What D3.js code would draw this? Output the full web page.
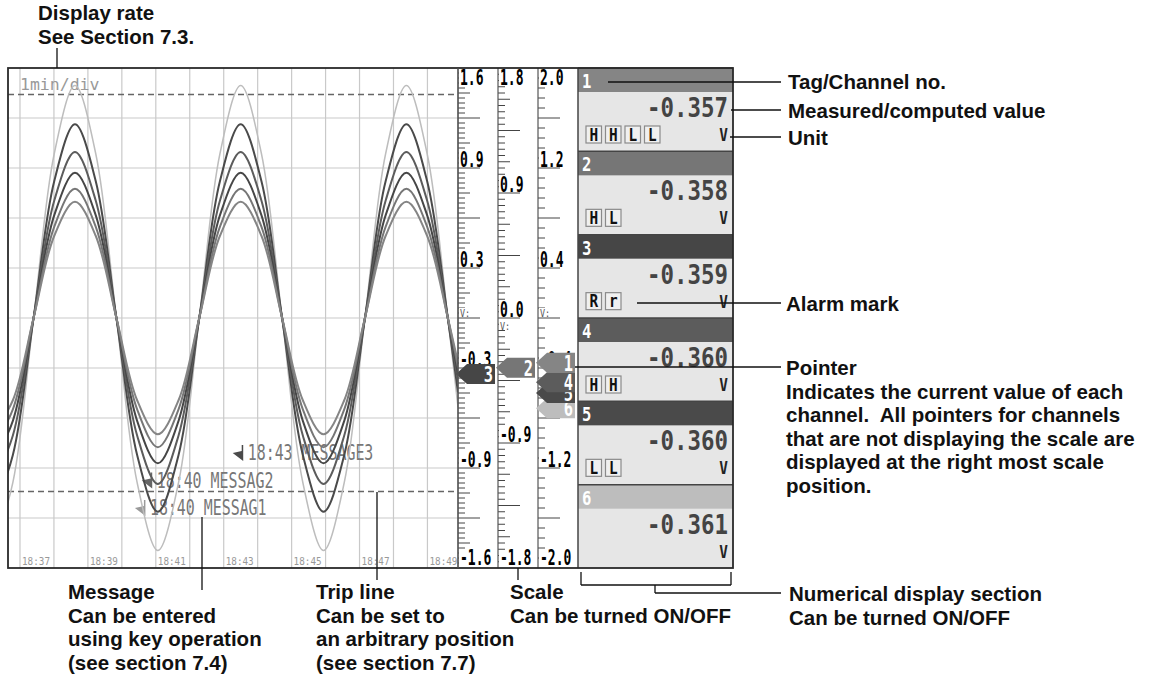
<!DOCTYPE html>
<html><head><meta charset="utf-8">
<script src="https://cdn.jsdelivr.net/npm/d3@7"></script>
<style>body{margin:0;background:#fff;} svg{display:block;} .ann{white-space:pre;}</style>
</head><body><svg id="c" width="1158" height="682"></svg>
<script>
// ---------------- data ----------------
const channelIds = ["1","2","3","4","5","6"];
const scaleLow  = [-2.0,-1.8,-1.6,-1.4,-1.2,-1.0];
const scaleHigh = [ 2.0, 1.8, 1.6, 1.4, 1.2, 1.0];
const measuredValues = [-0.357,-0.358,-0.359,-0.360,-0.360,-0.361];
const unitLabels = ["V","V","V","V","V","V"];
const alarmMarks = [["H","H","L","L"],["H","L"],["R","r"],["H","H"],["L","L"],[]];
const channelShades = ["#858585","#767676","#464646","#5c5c5c","#4a4a4a","#bdbdbd"];
// minutes after 18:37 and the common input signal (V)
const sampleMinutes = [-0.82,-0.21,0.40,1.01,1.62,2.23,2.84,3.45,4.06,4.67,5.28,5.89,6.50,7.11,7.72,8.33,8.94,9.55,10.16,10.77,11.38,11.99,12.60,12.90];
const signalVolts   = [-0.93,-0.658,0,0.658,0.93,0.658,0,-0.658,-0.93,-0.658,0,0.658,0.93,0.658,0,-0.658,-0.93,-0.658,0,0.658,0.93,0.658,0,-0.357];
const timeGridMinutes = [0,1,2,3,4,5,6,7,8,9,10,11,12];
const timeTickMinutes = [0,2,4,6,8,10,12];
const timeTickLabels = ["18:37","18:39","18:41","18:43","18:45","18:47","18:49"];
const timeWindow = [-0.353,12.9];
const displayRate = "1min/div";
const shownScales = [2,1,0];           // scale columns show ch3, ch2, ch1
const scaleLabelValues = [[1.6,0.96,0.32,-0.32,-0.96,-1.6],[1.8,0.9,0.0,-0.9,-1.8],[2.0,1.2,0.4,-0.4,-1.2,-2.0]];
const scaleLabelTexts  = [["1.6","0.9","0.3","-0.3","-0.9","-1.6"],["1.8","0.9","0.0","-0.9","-1.8"],["2.0","1.2","0.4","-0.4","-1.2","-2.0"]];
const scaleUnitMarks = ["V:","V:","V:"];
const scaleDivisions = [100,80,50];
const scaleLongEvery = [10,10,5];
const scaleMidEvery  = [5,5,0];
const tripLevels = [1.43,-1.11];        // volts on the ch3 scale
const messageMinutes = [6.53,3.85,3.65];
const messageTexts = ["18:43 MESSAGE3","18:40 MESSAG2","18:40 MESSAG1"];
const messageShades = ["#4a4a4a","#666","#9a9a9a"];
const annotations = [
  {lines:["Display rate","See Section 7.3."], x:38, y:20},
  {lines:["Tag/Channel no."], x:788, y:89},
  {lines:["Measured/computed value"], x:788, y:118},
  {lines:["Unit"], x:788, y:145},
  {lines:["Alarm mark"], x:786, y:311},
  {lines:["Pointer","Indicates the current value of each","channel.  All pointers for channels","that are not displaying the scale are","displayed at the right most scale","position."], x:786, y:375},
  {lines:["Numerical display section","Can be turned ON/OFF"], x:789, y:601},
  {lines:["Message","Can be entered","using key operation","(see section 7.4)"], x:68, y:599},
  {lines:["Trip line","Can be set to","an arbitrary position","(see section 7.7)"], x:316, y:599},
  {lines:["Scale","Can be turned ON/OFF"], x:510, y:599}
];

// ---------------- layout ----------------
const svg = d3.select("#c");
const T = 68, B = 568, L = 8, TR = 458, colW = 40, ND0 = 578, ND1 = 733;
const MONO = "DejaVu Sans Mono";
svg.append("rect").attr("width",1158).attr("height",682).attr("fill","#fff");

const x = d3.scaleLinear().domain(timeWindow).range([L, TR]);
const yCh = channelIds.map((_,i)=>d3.scaleLinear().domain([scaleLow[i],scaleHigh[i]]).range([B,T]));

function lcd(g, str, px, py, size, sx, o={}) {
  return g.append("text").attr("transform",`translate(${px},${py}) scale(${sx},1)`)
    .attr("font-family",MONO).attr("font-size",size).attr("font-weight",o.weight||"normal")
    .attr("fill",o.fill||"#000").attr("text-anchor",o.anchor||"start").text(str);
}

// trend area
const trend = svg.append("g");
trend.append("rect").attr("x",L).attr("y",T).attr("width",TR-L).attr("height",B-T).attr("fill","#fff");
trend.selectAll("line.vg").data(timeGridMinutes).join("line")
  .attr("x1",d=>x(d)).attr("x2",d=>x(d)).attr("y1",T).attr("y2",B)
  .attr("stroke","#c9c9c9").attr("stroke-width",1.2);
const yGrid = d3.scaleLinear().domain([0,10]).range([T,B]);
trend.selectAll("line.hg").data(d3.range(1,10)).join("line")
  .attr("x1",L).attr("x2",TR).attr("y1",d=>yGrid(d)).attr("y2",d=>yGrid(d))
  .attr("stroke","#c9c9c9").attr("stroke-width",1.2);

timeTickMinutes.forEach((m,i)=>lcd(trend,timeTickLabels[i],x(m)+2,565,9.8,0.95,{fill:"#999"}));
lcd(trend,displayRate,20,90,16.5,1,{fill:"#999"});

// trip lines
tripLevels.forEach(v=>{
  trend.append("line").attr("x1",L).attr("x2",TR).attr("y1",yCh[2](v)).attr("y2",yCh[2](v))
    .attr("stroke","#666").attr("stroke-width",1.6).attr("stroke-dasharray","6,4");
});

// messages (under the traces)
const msgRowY = d3.scaleLinear().domain([0,1]).range([460,487.5]);
messageTexts.forEach((t,i)=>{
  const mx = x(messageMinutes[i]), my = msgRowY(i);
  trend.append("path").attr("d",`M${mx},${my-15}L${mx+1.5},${my-15}L${mx+1.5},${my+1}L${mx-9},${my-7}L${mx},${my-9}Z`)
    .attr("fill",messageShades[i]);
  lcd(trend,t,mx+6,my,21,0.71,{fill:"#777"});
});

// traces
svg.append("clipPath").attr("id","tc").append("rect").attr("x",L).attr("y",T).attr("width",TR-L).attr("height",B-T);
const traceG = svg.append("g").attr("clip-path","url(#tc)");
const pts = sampleMinutes.map((m,i)=>[m,signalVolts[i]]);
[5,4,3,2,1,0].forEach(ci=>{
  const line = d3.line().x(d=>x(d[0])).y(d=>yCh[ci](d[1])).curve(d3.curveCatmullRom.alpha(0.5));
  traceG.append("path").attr("d",line(pts)).attr("fill","none")
    .attr("stroke",channelShades[ci]).attr("stroke-width",ci===5?1.5:2);
});

// scale columns
shownScales.forEach((ci,c)=>{
  const cx = TR + c*colW;
  const g = svg.append("g");
  g.append("rect").attr("x",cx).attr("y",T).attr("width",colW).attr("height",B-T).attr("fill","#fff");
  const n = scaleDivisions[c];
  d3.range(1,n).forEach(k=>{
    const v = scaleLow[ci] + (scaleHigh[ci]-scaleLow[ci])*k/n;
    let len = 7;
    if (k % scaleLongEvery[c] === 0) len = 22; else if (scaleMidEvery[c] && k % scaleMidEvery[c] === 0) len = 12;
    g.append("line").attr("x1",cx).attr("x2",cx+len).attr("y1",yCh[ci](v)).attr("y2",yCh[ci](v))
      .attr("stroke","#444").attr("stroke-width",1);
  });
  scaleLabelValues[c].forEach((v,j)=>{
    let by = yCh[ci](v) - 1;
    if (j===0) by = T + 17;
    if (j===scaleLabelValues[c].length-1) by = B - 3;
    const txt = scaleLabelTexts[c][j];
    const w = txt.length*21*0.602*0.62;
    g.append("rect").attr("x",cx+1).attr("y",by-15).attr("width",w+1).attr("height",15).attr("fill","#fff");
    lcd(g,txt,cx+2,by,21,0.62,{weight:"bold",fill:"#000"});
  });
  const zy = yCh[ci](0);
  const uy = (c===1) ? zy+12 : zy-1;
  g.append("rect").attr("x",cx+1).attr("y",uy-9).attr("width",12).attr("height",9).attr("fill","#fff");
  lcd(g,scaleUnitMarks[c],cx+2,uy,10.5,0.8,{fill:"#555"});
  g.append("line").attr("x1",cx).attr("x2",cx).attr("y1",T).attr("y2",B).attr("stroke","#555").attr("stroke-width",1.2);
});

// pointers (channels without a shown scale go to the right-most column)
const pointerCol = channelIds.map((_,ci)=>{ const c = shownScales.indexOf(ci); return c<0 ? shownScales.length-1 : c; });
[5,4,3,2,1,0].forEach(ci=>{
  const cx = TR + pointerCol[ci]*colW;
  const py = yCh[ci](measuredValues[ci]);
  const g = svg.append("g");
  g.append("path").attr("d",`M${cx-2},${py}L${cx+9},${py-10}L${cx+37},${py-10}L${cx+37},${py+10}L${cx+9},${py+10}Z`)
    .attr("fill",channelShades[ci]);
  lcd(g,channelIds[ci],cx+35,py+8,22,0.7,{weight:"bold",fill:"#fff",anchor:"end"});
});

// numerical display
const ph = (B-T)/channelIds.length;
const nd = svg.append("g");
channelIds.forEach((id,ci)=>{
  const top = T + ci*ph;
  nd.append("rect").attr("x",ND0).attr("y",top).attr("width",ND1-ND0).attr("height",ph).attr("fill","#e6e6e6");
  nd.append("rect").attr("x",ND0).attr("y",top).attr("width",ND1-ND0).attr("height",24).attr("fill",channelShades[ci]);
  lcd(nd,id,582,top+20,20,0.78,{fill:"#fff",weight:"bold"});
  lcd(nd,measuredValues[ci].toFixed(3),728,top+49,27,0.83,{fill:"#444",anchor:"end",weight:"bold"});
  lcd(nd,unitLabels[ci],728,top+73,18,0.8,{fill:"#222",anchor:"end",weight:"bold"});
  alarmMarks[ci].forEach((m,k)=>{
    const bx = 586 + k*19.5;
    nd.append("rect").attr("x",bx).attr("y",top+58).attr("width",15.5).attr("height",17)
      .attr("fill","#f0f0f0").attr("stroke","#8a8a8a").attr("stroke-width",1.2);
    lcd(nd,m,bx+7.75,top+72.5,18,0.8,{weight:"bold",fill:"#111",anchor:"middle"});
  });
  nd.append("line").attr("x1",ND0).attr("x2",ND1).attr("y1",top).attr("y2",top).attr("stroke","#444").attr("stroke-width",1.5);
});
nd.append("line").attr("x1",ND0).attr("x2",ND0).attr("y1",T).attr("y2",B).attr("stroke","#444").attr("stroke-width",1.5);

// outer frame
svg.append("rect").attr("x",L).attr("y",T).attr("width",ND1-L).attr("height",B-T)
  .attr("fill","none").attr("stroke","#2a2a2a").attr("stroke-width",1.8);
svg.append("line").attr("x1",TR).attr("x2",TR).attr("y1",T).attr("y2",B).attr("stroke","#555").attr("stroke-width",1.2);

// annotations
const ann = svg.append("g");
annotations.forEach(a=>{
  const t = ann.append("text").attr("class","ann").attr("font-family","Liberation Sans, Arial, sans-serif")
    .attr("font-weight","bold").attr("font-size",20.5).attr("fill","#111");
  a.lines.forEach((s,i)=>t.append("tspan").attr("x",a.x).attr("y",a.y + i*23.6).text(s));
});
const leaders = [
  [57,48,57,68],[608,82,781,82],[731,110,781,110],[730,137,781,137],[637,303,781,303],[575,367,781,367],
  [581,572,581,585],[581,585,731,585],[731,572,731,585],[655,585,655,593],[655,593,781,593],
  [202,517,202,590],[377,492,377,580],[518,568,518,580]
];
ann.selectAll("line").data(leaders).join("line")
  .attr("x1",d=>d[0]).attr("y1",d=>d[1]).attr("x2",d=>d[2]).attr("y2",d=>d[3])
  .attr("stroke","#111").attr("stroke-width",1.3);
</script></body></html>
